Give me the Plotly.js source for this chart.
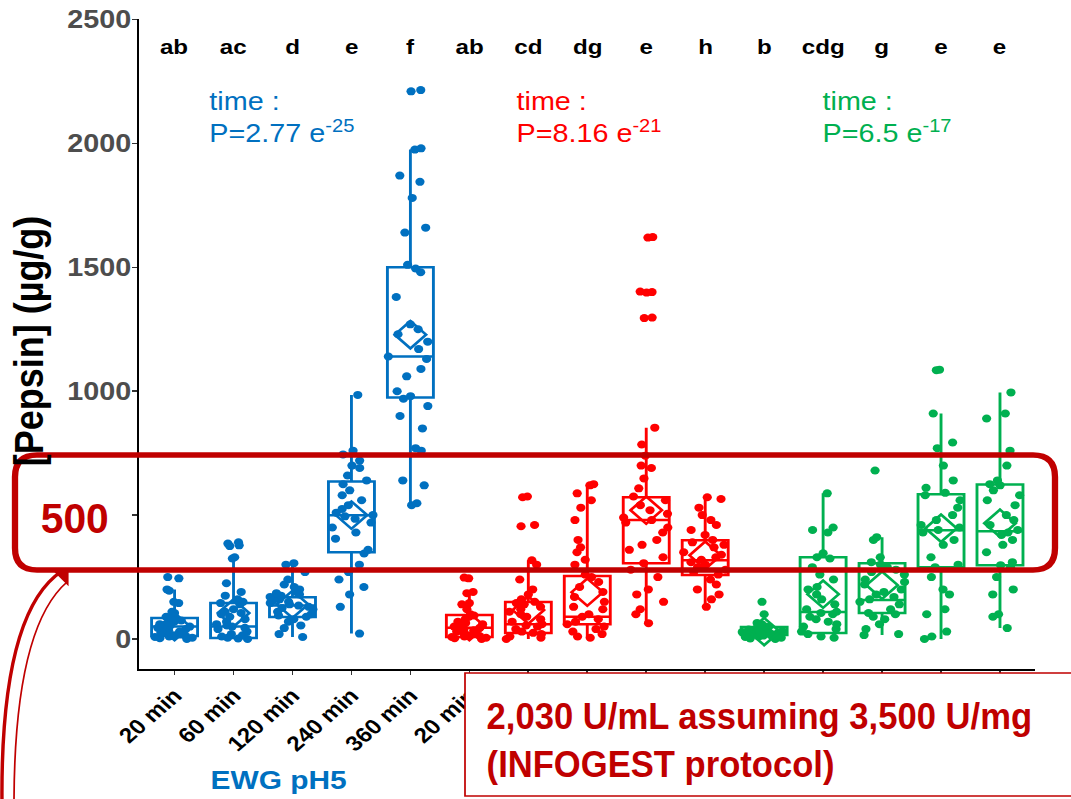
<!DOCTYPE html>
<html><head><meta charset="utf-8">
<script src="https://cdn.plot.ly/plotly-3.0.1.min.js"></script>
<style>
html,body{margin:0;padding:0;background:#fff;overflow:hidden;width:1071px;height:799px}
#chart{width:931px;height:799px;transform:scaleX(1.1504);transform-origin:0 0;}
</style>
</head><body><div id="chart"></div>
<script>
// ---------- data ----------
const timeLabels = ["20 min","60 min","120 min","240 min","360 min"];
const letters = ["ab","ac","d","e","f","ab","cd","dg","e","h","b","cdg","g","e","e"];
const yTicks = [0, 500, 1000, 1500, 2000, 2500];
const yTickText = ["0", "", "1000", "1500", "2000", "2500"];

const blueQ1 = [12, 4, 89, 350, 975];
const blueMedian = [50, 50, 135, 499, 1140];
const blueQ3 = [85, 145, 169, 636, 1500];
const blueLow = [0, 0, 8, 22, 540];
const blueHigh = [200, 330, 306, 985, 1975];
const blueMean = [50, 105, 140, 500, 1228];

const redQ1 = [8, 24, 60, 306, 258];
const redMedian = [45, 60, 90, 480, 318];
const redQ3 = [97, 149, 254, 572, 399];
const redLow = [0, 0, 5, 64, 129];
const redHigh = [195, 318, 620, 853, 572];
const redMean = [50, 117, 189, 520, 338];

const greenQ1 = [16, 24, 105, 290, 298];
const greenMedian = [28, 109, 157, 439, 435];
const greenQ3 = [48, 330, 306, 584, 624];
const greenLow = [0, 5, 16, 0, 44];
const greenHigh = [65, 588, 411, 910, 995];
const greenMean = [30, 181, 217, 447, 467];

const blue20 = [250, 245, 200, 195, 150, 145, 110, 105, 90, 85, 80, 75, 70, 65, 60, 55, 50, 48, 45, 40, 35, 30, 25, 20, 18, 15, 12, 10, 8, 5, 3, 0];
const blue60 = [390, 385, 378, 375, 330, 325, 225, 190, 175, 160, 150, 145, 140, 120, 110, 105, 100, 90, 80, 70, 60, 55, 50, 45, 40, 30, 20, 15, 10, 5, 2, 0];
const blue120 = [306, 300, 270, 240, 220, 210, 200, 190, 185, 180, 175, 170, 165, 160, 155, 150, 145, 140, 135, 130, 125, 120, 110, 100, 95, 90, 80, 70, 55, 44, 20, 8];
const blue240 = [985, 760, 745, 720, 700, 690, 660, 640, 625, 600, 580, 560, 540, 525, 510, 500, 495, 485, 470, 450, 430, 405, 360, 345, 300, 270, 240, 210, 180, 130, 22];
const blue360 = [2215, 2210, 1980, 1975, 1870, 1845, 1780, 1660, 1640, 1510, 1495, 1480, 1380, 1270, 1250, 1230, 1200, 1170, 1140, 1130, 1090, 1060, 1000, 980, 970, 940, 900, 850, 770, 760, 640, 620, 548, 540];

const red20 = [248, 245, 190, 185, 145, 140, 120, 100, 95, 90, 80, 70, 65, 60, 55, 50, 45, 40, 35, 30, 25, 20, 15, 12, 10, 8, 5, 3, 0];
const red60 = [575, 572, 460, 455, 318, 300, 240, 200, 180, 160, 150, 145, 140, 130, 120, 110, 100, 90, 80, 70, 60, 55, 50, 40, 30, 25, 20, 10, 5, 0];
const red120 = [625, 620, 588, 560, 530, 480, 400, 370, 350, 320, 300, 260, 250, 230, 210, 190, 170, 150, 130, 120, 100, 90, 80, 70, 60, 50, 40, 30, 20, 10, 5];
const red240 = [1622, 1620, 1402, 1400, 1398, 1297, 1295, 853, 785, 740, 700, 690, 648, 608, 575, 560, 540, 520, 505, 490, 480, 470, 450, 430, 400, 380, 360, 330, 306, 280, 250, 200, 180, 150, 120, 100, 64];
const red360 = [572, 565, 530, 500, 480, 460, 440, 420, 400, 390, 380, 370, 350, 340, 330, 320, 310, 300, 290, 280, 270, 260, 240, 220, 200, 180, 160, 130];

const green20 = [150, 100, 65, 60, 50, 48, 45, 40, 38, 35, 32, 30, 28, 26, 25, 22, 20, 18, 16, 14, 12, 10, 8, 5, 2, 0];
const green60 = [588, 450, 440, 430, 346, 330, 325, 290, 260, 240, 210, 200, 180, 160, 140, 120, 110, 105, 100, 90, 80, 70, 60, 50, 40, 30, 20, 10, 5];
const green120 = [680, 411, 400, 330, 310, 300, 290, 280, 270, 260, 240, 230, 220, 200, 190, 180, 170, 160, 150, 140, 120, 105, 100, 90, 80, 60, 40, 20, 16];
const green240 = [1087, 1085, 910, 793, 770, 700, 640, 610, 590, 580, 560, 530, 500, 480, 460, 450, 440, 430, 400, 380, 330, 300, 290, 250, 200, 180, 120, 100, 30, 10, 0];
const green360 = [995, 910, 890, 760, 700, 640, 625, 620, 600, 580, 560, 540, 500, 480, 460, 440, 430, 420, 400, 380, 350, 310, 298, 290, 250, 200, 180, 100, 90, 44];

const BLUE = "#0070C0", RED = "#FF0000", GREEN = "#00B050", DARKRED = "#C00000";
const SANS = "Liberation Sans, Arial, sans-serif";

// ---------- geometry helpers (reference pixel -> paper) ----------
const S = 1.1504, L = 121, PW = 779, T = 19, PH = 650;
const X = xr => (xr / S - L) / PW;
const Y = yr => (T + PH - yr) / PH;

// ---------- traces ----------
function statBox(color, offset, q1, med, q3, lo, hi) {
  return {type: "box", x: [0,1,2,3,4].map(i => i + offset), q1: q1, median: med, q3: q3,
    lowerfence: lo, upperfence: hi, width: 0.78, whiskerwidth: 0,
    line: {color: color, width: 2.5}, fillcolor: "rgba(0,0,0,0)",
    boxpoints: false, hoverinfo: "skip", showlegend: false};
}
function pointsBox(color, offset, groups) {
  const x = [], y = [];
  groups.forEach((g, i) => g.forEach(v => { x.push(i + offset); y.push(v); }));
  return {type: "box", x: x, y: y, boxpoints: "all", jitter: 1, pointpos: 0, width: 0.8,
    line: {width: 0, color: "rgba(0,0,0,0)"}, fillcolor: "rgba(0,0,0,0)",
    marker: {color: color, size: 8}, hoverinfo: "y", showlegend: false};
}
function meanTrace(color, offset, means) {
  return {type: "scatter", mode: "markers", x: [0,1,2,3,4].map(i => i + offset), y: means,
    marker: {symbol: "diamond-open", size: 21, color: color, line: {width: 2.5, color: color}},
    hoverinfo: "y", showlegend: false};
}

const data = [
  statBox(BLUE, 0, blueQ1, blueMedian, blueQ3, blueLow, blueHigh),
  statBox(RED, 5, redQ1, redMedian, redQ3, redLow, redHigh),
  statBox(GREEN, 10, greenQ1, greenMedian, greenQ3, greenLow, greenHigh),
  pointsBox(BLUE, 0, [blue20, blue60, blue120, blue240, blue360]),
  pointsBox(RED, 5, [red20, red60, red120, red240, red360]),
  pointsBox(GREEN, 10, [green20, green60, green120, green240, green360]),
  meanTrace(BLUE, 0, blueMean),
  meanTrace(RED, 5, redMean),
  meanTrace(GREEN, 10, greenMean)
];

// ---------- annotations ----------
const annotations = letters.map((t, i) => ({
  x: i, y: 2390, xref: "x", yref: "y", text: t, showarrow: false,
  xanchor: "center", yanchor: "middle",
  font: {family: SANS, size: 21, color: "#000", weight: "bold"}
}));
[[207, "time :<br>P=2.77 e<sup>-25</sup>", BLUE],
 [514, "time :<br>P=8.16 e<sup>-21</sup>", RED],
 [820, "time :<br>P=6.5 e<sup>-17</sup>", GREEN]].forEach(a => annotations.push({
  x: X(a[0]), y: Y(118), xref: "paper", yref: "paper", xanchor: "left", yanchor: "middle",
  align: "left", text: a[1], showarrow: false, font: {family: SANS, size: 25, color: a[2]}
}));
annotations.push({x: X(28), y: Y(341), xref: "paper", yref: "paper", textangle: -90,
  text: "[Pepsin] (µg/g)", showarrow: false, xanchor: "center", yanchor: "middle",
  font: {family: SANS, size: 36, color: "#000", weight: "bold"}});
annotations.push({x: X(278), y: Y(780), xref: "paper", yref: "paper", text: "EWG pH5",
  xanchor: "center", yanchor: "middle",
  showarrow: false, font: {family: SANS, size: 26, color: BLUE, weight: "bold"}});
const IDX500 = annotations.length;
annotations.push({x: X(75), y: Y(519), xref: "paper", yref: "paper", text: "500",
  xanchor: "center", yanchor: "middle",
  showarrow: false, width: 96, height: 70, bgcolor: "#fff", borderpad: 0,
  font: {family: SANS, size: 42, color: DARKRED, weight: "bold"}});
const IDXCALL = annotations.length;
annotations.push({x: X(484), y: Y(740), xref: "paper", yref: "paper", xanchor: "left",
  yanchor: "middle", align: "left", showarrow: false,
  text: "2,030 U/mL assuming 3,500 U/mg<br>(INFOGEST protocol)",
  font: {family: SANS, size: 37, color: DARKRED, weight: "bold"}});

// ---------- shapes ----------
function roundRect(x0, y0, x1, y1, r) {
  return "M" + X(x0 + r) + "," + Y(y0) + " L" + X(x1 - r) + "," + Y(y0) +
    " Q" + X(x1) + "," + Y(y0) + " " + X(x1) + "," + Y(y0 + r) +
    " L" + X(x1) + "," + Y(y1 - r) +
    " Q" + X(x1) + "," + Y(y1) + " " + X(x1 - r) + "," + Y(y1) +
    " L" + X(x0 + r) + "," + Y(y1) +
    " Q" + X(x0) + "," + Y(y1) + " " + X(x0) + "," + Y(y1 - r) +
    " L" + X(x0) + "," + Y(y0 + r) +
    " Q" + X(x0) + "," + Y(y0) + " " + X(x0 + r) + "," + Y(y0) + " Z";
}
const shapes = [
  {type: "rect", xref: "paper", yref: "paper", x0: X(465), x1: X(1085), y0: Y(796), y1: Y(673),
   line: {color: DARKRED, width: 1.5}, fillcolor: "#fff", layer: "above"},
  {type: "path", xref: "paper", yref: "paper", path: roundRect(15, 455, 1055, 570, 22),
   line: {color: DARKRED, width: 5.5}, fillcolor: "rgba(0,0,0,0)", layer: "above"},
  {type: "path", xref: "paper", yref: "paper",
   path: "M" + X(62) + "," + Y(571) + " Q" + X(0) + "," + Y(612) + " " + X(2) + "," + Y(805),
   line: {color: DARKRED, width: 3}, layer: "above"},
  {type: "path", xref: "paper", yref: "paper",
   path: "M" + X(67) + "," + Y(582) + " Q" + X(14) + "," + Y(628) + " " + X(14) + "," + Y(805),
   line: {color: DARKRED, width: 1.5}, layer: "above"},
  {type: "path", xref: "paper", yref: "paper",
   path: "M" + X(52) + "," + Y(569) + " L" + X(68) + "," + Y(569) + " L" + X(68) + "," + Y(585) + " Z",
   line: {color: DARKRED, width: 1}, fillcolor: DARKRED, layer: "above"}
];

const layout = {
  width: 931, height: 799,
  margin: {l: L, r: 931 - L - PW, t: T, b: 799 - T - PH},
  paper_bgcolor: "#fff", plot_bgcolor: "#fff",
  boxmode: "overlay", showlegend: false, hovermode: false,
  xaxis: {range: [-0.6, 14.6], tickvals: [...Array(15).keys()],
    ticktext: timeLabels.concat(timeLabels, timeLabels), tickangle: -45,
    tickfont: {family: SANS, size: 21, color: "#000", weight: "bold"},
    showline: true, linecolor: "#000", linewidth: 2, ticks: "outside", ticklen: 4,
    tickcolor: "#333", tickwidth: 1.5, showgrid: false, zeroline: false, fixedrange: true},
  yaxis: {range: [-121, 2502], tickvals: yTicks, ticktext: yTickText,
    ticklabelstandoff: -4,
    tickfont: {family: SANS, size: 25, color: "#4D4D4D", weight: "bold"},
    showline: true, linecolor: "#000", linewidth: 2, ticks: "outside", ticklen: 4,
    tickcolor: "#333", tickwidth: 1.5, showgrid: false, zeroline: false, fixedrange: true},
  annotations: annotations,
  shapes: shapes
};

Plotly.newPlot("chart", data, layout, {displayModeBar: false, staticPlot: true}).then(gd => {
  // condense the two overlay texts (drawn in a narrow face in the reference)
  const narrow = (idx, scale, origin) => {
    const t = gd.querySelector('.annotation[data-index="' + idx + '"] text.annotation-text');
    if (t) {
      t.style.transformBox = "fill-box";
      t.style.transformOrigin = origin;
      t.style.transform = "scaleX(" + scale + ")";
    }
  };
  narrow(IDX500, 0.845, "50% 50%");
  narrow(IDXCALL, 0.813, "0% 50%");
});
</script></body></html>
